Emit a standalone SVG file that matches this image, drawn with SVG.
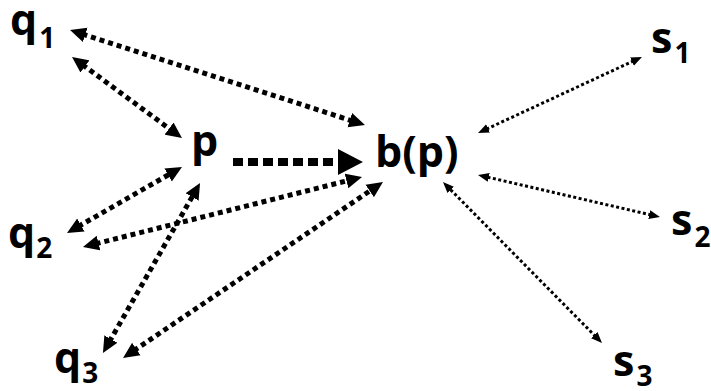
<svg xmlns="http://www.w3.org/2000/svg" width="711" height="391" viewBox="0 0 711 391">
<style>
.lbl{font-family:"Open Sans","Liberation Sans",sans-serif;font-weight:bold;font-size:43px;fill:#000}
.sub{font-size:28px}
.med{stroke:#000;stroke-width:5;stroke-dasharray:5 4;fill:none;marker-start:url(#mh);marker-end:url(#mh)}
.big{stroke:#000;stroke-width:8;stroke-dasharray:10 5;fill:none;marker-end:url(#bh)}
.sml{stroke:#000;stroke-width:3;stroke-dasharray:3 2.5;fill:none;marker-start:url(#sh);marker-end:url(#sh)}
</style>
<defs>
<marker id="mh" markerUnits="userSpaceOnUse" markerWidth="16" markerHeight="16" refX="3" refY="8" orient="auto-start-reverse" viewBox="0 0 16 16"><path d="M0,0.5 L16,8 L0,15.5 z" fill="#000"/></marker>
<marker id="bh" markerUnits="userSpaceOnUse" markerWidth="26" markerHeight="26" refX="0" refY="12.5" orient="auto" viewBox="0 0 25 25"><path d="M0,0 L24,12.5 L0,25 z" fill="#000"/></marker>
<marker id="sh" markerUnits="userSpaceOnUse" markerWidth="12" markerHeight="12" refX="2" refY="5" orient="auto-start-reverse" viewBox="0 0 12 10"><path d="M0,0.5 L11,5 L0,9.5 z" fill="#000"/></marker>
</defs>
<g id="connectors">
<line class="med" x1="82.4" y1="34" x2="352.6" y2="121"/>
<line class="med" x1="82.5" y1="64.7" x2="171.5" y2="130.3"/>
<line class="big" x1="233" y1="162" x2="338" y2="162"/>
<line class="med" x1="78.3" y1="226.5" x2="170.7" y2="173.5"/>
<line class="med" x1="95.6" y1="243.8" x2="349.4" y2="180.2"/>
<line class="med" x1="109.4" y1="341.7" x2="193.6" y2="194.3"/>
<line class="med" x1="133.8" y1="350.7" x2="372.2" y2="189.3"/>
<line class="sml" x1="633.8" y1="60.8" x2="486.2" y2="129.2"/>
<line class="sml" x1="651.2" y1="215" x2="486.8" y2="177"/>
<line class="sml" x1="595.7" y1="336.6" x2="449.3" y2="188.4"/>
</g>
<g id="q1"><text class="lbl" x="10" y="35">q<tspan class="sub" dx="2" dy="13">1</tspan></text></g>
<g id="q2"><text class="lbl" x="8" y="248">q<tspan class="sub" dx="1" dy="10">2</tspan></text></g>
<g id="q3"><text class="lbl" x="54" y="373">q<tspan class="sub" dx="1" dy="10">3</tspan></text></g>
<g id="p"><text class="lbl" x="191" y="156">p</text></g>
<g id="bp"><text class="lbl" x="375" y="167">b(p)</text></g>
<g id="s1"><text class="lbl" x="651" y="53">s<tspan class="sub" dx="2" dy="10">1</tspan></text></g>
<g id="s2"><text class="lbl" x="671" y="235">s<tspan class="sub" dx="2" dy="12">2</tspan></text></g>
<g id="s3"><text class="lbl" x="613" y="376">s<tspan class="sub" dx="2" dy="10">3</tspan></text></g>
</svg>
